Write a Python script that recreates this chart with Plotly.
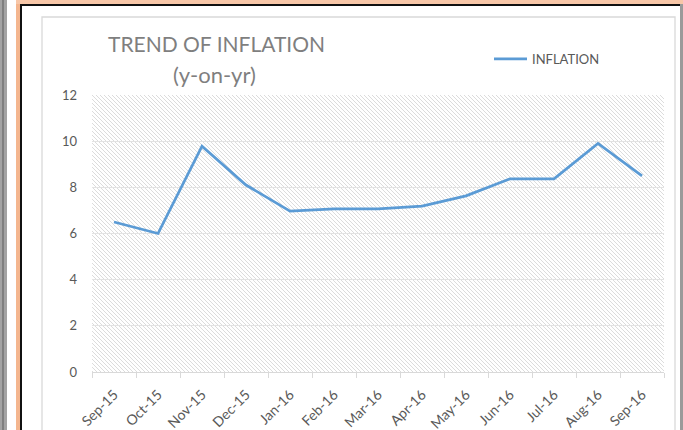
import base64
import plotly.graph_objects as go

months = ["Sep-15", "Oct-15", "Nov-15", "Dec-15", "Jan-16", "Feb-16", "Mar-16",
          "Apr-16", "May-16", "Jun-16", "Jul-16", "Aug-16", "Sep-16"]
inflation = [6.5, 6.0, 9.78, 8.1, 6.97, 7.07, 7.07, 7.19, 7.63, 8.37, 8.37, 9.9, 8.5]
y_ticks = [0, 2, 4, 6, 8, 10, 12]

W, H = 683, 430
L, R, T, B = 92, 664, 95, 372  # plot area in pixels
PW, PH = R - L, B - T


def px(x):
    return (x - L) / PW


def py(y):
    return (B - y) / PH


# hatch background for the plot area
svg = f'''<svg xmlns="http://www.w3.org/2000/svg" width="{PW}" height="{PH}" preserveAspectRatio="none">
<defs><pattern id="h" patternUnits="userSpaceOnUse" width="4" height="4">
<rect width="4" height="4" fill="#ffffff"/>
<path d="M-1,-1 L5,5 M-1,3 L1,5 M3,-1 L5,1" stroke="#dcdcdc" stroke-width="1"/>
</pattern></defs>
<rect width="{PW}" height="{PH}" fill="url(#h)"/></svg>'''
hatch = "data:image/svg+xml;base64," + base64.b64encode(svg.encode()).decode()

fig = go.Figure()
fig.add_trace(go.Scatter(
    x=months, y=inflation, mode="lines", name="INFLATION",
    line=dict(color="#5b9bd5", width=2.75),
))


def rect(x0, y0, x1, y1, fill=None, line=None, lw=0):
    return dict(type="rect", xref="paper", yref="paper",
                x0=px(x0), x1=px(x1), y0=py(y1), y1=py(y0),
                fillcolor=fill if fill else "rgba(0,0,0,0)",
                line=dict(color=line if line else "rgba(0,0,0,0)", width=lw),
                layer="above")


shapes = [
    rect(0, 0, 7, 430, fill="#a3a3a3"),
    rect(2, 0, 4, 430, fill="#7f7f7f"),
    rect(16, 0, 20, 430, fill="#f4b68f"),
    rect(16, 0, 683, 4, fill="#f8c7a8"),
    rect(20, 4, 22, 430, fill="#111111"),
    rect(20, 4, 680, 6, fill="#111111"),
    rect(680, 4, 683, 430, fill="#9a9a9a"),
    dict(type="rect", xref="paper", yref="paper",
         x0=px(42), x1=px(675), y0=py(440), y1=py(17),
         fillcolor="rgba(0,0,0,0)", line=dict(color="#d9d9d9", width=1.3),
         layer="below"),
]

title_font = dict(family="Lato, sans-serif", size=21, color="#7f7f7f")
subtitle_font = dict(family="Lato, sans-serif", size=22, color="#7f7f7f")

fig.update_layout(
    width=W, height=H,
    margin=dict(l=L, r=W - R, t=T, b=H - B, pad=0, autoexpand=False),
    paper_bgcolor="#ffffff",
    plot_bgcolor="rgba(0,0,0,0)",
    font=dict(family="Lato, 'Open Sans', sans-serif", color="#595959", size=12),
    showlegend=True,
    legend=dict(x=px(489), y=py(44), xanchor="left", yanchor="top",
                bgcolor="rgba(0,0,0,0)", font=dict(size=13, color="#595959"),
                itemwidth=33),
    images=[dict(source=hatch, xref="paper", yref="paper", x=0, y=1,
                 sizex=1, sizey=1, xanchor="left", yanchor="top",
                 sizing="stretch", layer="below")],
    shapes=shapes,
    annotations=[
        dict(text="TREND OF INFLATION", xref="paper", yref="paper",
             x=px(216), y=py(43), xanchor="center", yanchor="middle",
             showarrow=False, font=title_font),
        dict(text="(y-on-yr)", xref="paper", yref="paper",
             x=px(214), y=py(74), xanchor="center", yanchor="middle",
             showarrow=False, font=subtitle_font),
    ],
    xaxis=dict(
        type="category", categoryorder="array", categoryarray=months,
        tickson="boundaries", ticks="outside", ticklen=5, tickcolor="#d9d9d9",
        showline=True, linecolor="#d9d9d9", linewidth=1,
        showgrid=False, tickangle=-45, tickfont=dict(size=14, color="#595959"),
        ticklabelstandoff=8, automargin=False,
        range=[-0.5, len(months) - 0.5], fixedrange=True,
    ),
    yaxis=dict(
        range=[0, 12], tickvals=y_ticks, ticktext=[str(v) for v in y_ticks],
        showgrid=True, gridcolor="#e3e3e3", gridwidth=1, automargin=False,
        zeroline=False, showline=False, ticks="", fixedrange=True,
        ticklabelstandoff=14, tickfont=dict(size=13, color="#595959"),
    ),
)

fig.write_html("out.html", config={"displayModeBar": False},
               post_script="document.body.style.margin='0';document.body.style.overflow='hidden';")
